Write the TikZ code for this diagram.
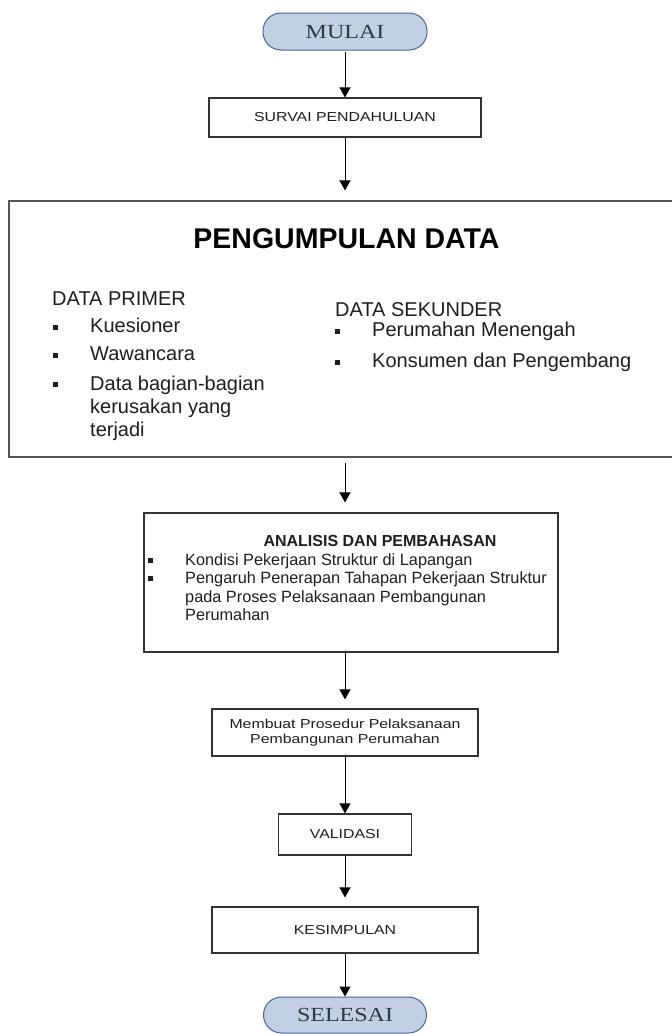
\documentclass[tikz,border=0pt]{standalone}
\usepackage{fontspec}
\setmainfont{Liberation Sans}
\newfontfamily\widesans[FakeStretch=1.22]{Liberation Sans}
\newfontfamily\wideserif[FakeStretch=1.2]{Liberation Serif}
\usetikzlibrary{arrows.meta,calc}
\definecolor{termfill}{HTML}{C3CFE2}
\definecolor{termborder}{HTML}{4A6699}
\definecolor{termtext}{HTML}{303845}
\definecolor{boxline}{HTML}{333333}
\definecolor{bigline}{HTML}{555555}
\definecolor{textgray}{HTML}{1E1E1E}
\tikzset{
 arr/.style={-{Triangle[width=11pt,length=10pt]}, line width=1pt, black},
 term/.style={draw=termborder, fill=termfill, line width=1pt, rounded corners=18pt, minimum width=164pt, minimum height=37pt, inner sep=0pt, font=\wideserif\fontsize{20}{22}\selectfont, text=termtext},
 procbox/.style={draw=boxline, line width=1.2pt, inner sep=0pt, align=center, font=\widesans\fontsize{13}{15}\selectfont, text=textgray},
 bigtxt/.style={font=\fontsize{20}{24}\selectfont, text=textgray, inner sep=0pt, anchor=base west},
 smalltxt/.style={font=\fontsize{16.3}{18.5}\selectfont, text=textgray, inner sep=0pt, anchor=base west},
 bul/.style={fill=textgray, minimum size=5pt, inner sep=0pt},
}
\begin{document}
\begin{tikzpicture}[x=1pt,y=-1pt]
\path[use as bounding box] (0,0) rectangle (672,1034);
\clip (0,0) rectangle (672,1034);

% terminators and process boxes
\node[term] (mulai) at (345,31.5) {MULAI};
\node[procbox, minimum width=272pt, minimum height=39pt] (survai) at (345,117.5) {SURVAI PENDAHULUAN};
\node[draw=bigline, line width=1.2pt, minimum width=681pt, minimum height=256pt, inner sep=0pt] (pd) at (349.5,329) {};
\node[draw=boxline, line width=1.2pt, minimum width=414pt, minimum height=139pt, inner sep=0pt] (analisis) at (351,582.5) {};
\node[procbox, minimum width=266pt, minimum height=47pt] (membuat) at (345,732.5) {Membuat Prosedur Pelaksanaan\\Pembangunan Perumahan};
\node[procbox, minimum width=133pt, minimum height=41pt] (validasi) at (345,834.5) {VALIDASI};
\node[procbox, minimum width=266pt, minimum height=46pt] (kesimpulan) at (345,930) {KESIMPULAN};
\node[term, minimum width=163pt, minimum height=36pt] (selesai) at (345,1015) {SELESAI};

% pengumpulan data content
\node[font=\bfseries\fontsize{28.5}{32}\selectfont, inner sep=0pt, anchor=base, text=black] (pdtitle) at (346.5,248) {PENGUMPULAN DATA};
\node[bigtxt] (primer) at (52,305) {DATA PRIMER};
\node[bul] (b1) at (55,327) {};
\node[bul] (b2) at (55,355.5) {};
\node[bul] (b3) at (55,384) {};
\node[bigtxt] (p1) at (90,332) {Kuesioner};
\node[bigtxt] (p2) at (90,360.5) {Wawancara};
\node[bigtxt] (p3a) at (90,390) {Data bagian-bagian};
\node[bigtxt] (p3b) at (90,413) {kerusakan yang};
\node[bigtxt] (p3c) at (90,436) {terjadi};
\node[bigtxt] (sekunder) at (335,316) {DATA SEKUNDER};
\node[bul] (b4) at (337,331) {};
\node[bul] (b5) at (337,362) {};
\node[bigtxt] (s1) at (372,336) {Perumahan Menengah};
\node[bigtxt] (s2) at (372,367) {Konsumen dan Pengembang};

% analisis content
\node[font=\bfseries\fontsize{16}{18}\selectfont, inner sep=0pt, anchor=base, text=textgray] (antitle) at (380,546) {ANALISIS DAN PEMBAHASAN};
\node[bul] (b6) at (150,560) {};
\node[bul] (b7) at (150,578.5) {};
\node[smalltxt] (a1) at (185,565) {Kondisi Pekerjaan Struktur di Lapangan};
\node[smalltxt] (a2a) at (185,583.5) {Pengaruh Penerapan Tahapan Pekerjaan Struktur};
\node[smalltxt] (a2b) at (185,602) {pada Proses Pelaksanaan Pembangunan};
\node[smalltxt] (a2c) at (185,620.5) {Perumahan};

% connectors
\draw[arr, shorten <=1pt] (mulai.south) -- (survai.north);
\draw[arr, shorten >=10pt] (survai.south) -- (survai.south |- pd.north);
\draw[arr, shorten <=5pt, shorten >=10pt] (survai.south |- pd.south) -- (survai.south |- analisis.north);
\draw[arr, shorten >=9pt] (survai.south |- analisis.south) -- (membuat.north);
\draw[arr] (membuat.south) -- (validasi.north);
\draw[arr, shorten >=9pt] (validasi.south) -- (kesimpulan.north);
\draw[arr] (kesimpulan.south) -- (selesai.north);
\end{tikzpicture}
\end{document}
